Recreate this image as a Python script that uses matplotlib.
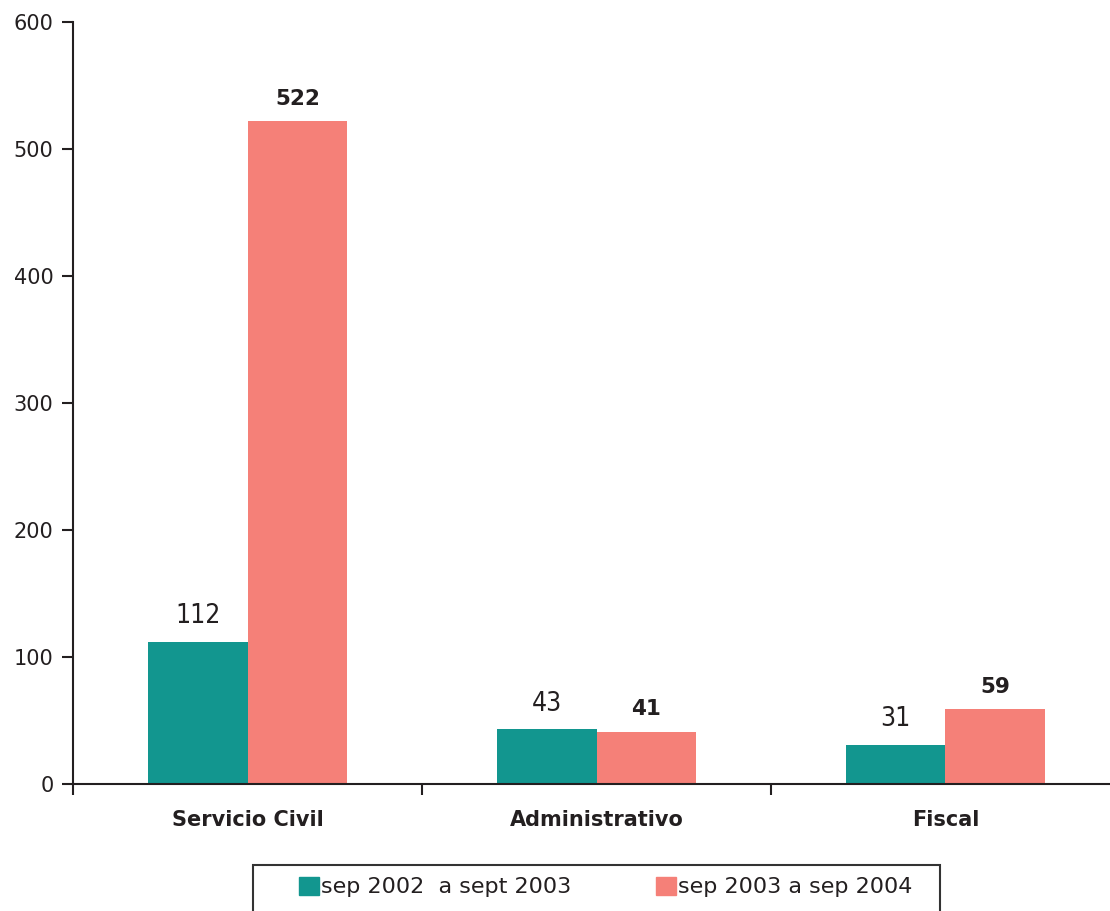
import numpy as np
import matplotlib.pyplot as plt
from matplotlib.patches import Patch, Rectangle

# Datos ########################################################################
categorias = ["Servicio Civil", "Administrativo", "Fiscal"]
serie_2003 = [112, 43, 31]
serie_2004 = [522, 41, 59]
nombres = ["sep 2002  a sept 2003", "sep 2003 a sep 2004"]

verde = "#12968F"
salmon = "#F58078"
texto = "#231F20"

plt.rcParams["font.family"] = ["DejaVu Sans"]

fig = plt.figure(figsize=(11.1, 9.11), dpi=100)
ax = fig.add_axes([73 / 1110, 1 - 784 / 911, 1047 / 1110, 762 / 911])

x = np.arange(len(categorias))
ancho = 0.286
b1 = ax.bar(x - ancho / 2, serie_2003, ancho, color=verde)
b2 = ax.bar(x + ancho / 2, serie_2004, ancho, color=salmon)

# etiquetas de valores
for r, v in zip(b1, serie_2003):
    ax.annotate(str(v), (r.get_x() + r.get_width() / 2, v), xytext=(0, 9),
                textcoords="offset points", ha="center", va="bottom",
                fontsize=19, fontstretch="condensed", color=texto)
for r, v in zip(b2, serie_2004):
    ax.annotate(str(v), (r.get_x() + r.get_width() / 2, v), xytext=(0, 9),
                textcoords="offset points", ha="center", va="bottom",
                fontsize=15.5, fontweight="bold", color=texto)

ax.set_xlim(-0.5, 2.5)
ax.set_ylim(0, 600)
ax.set_yticks(range(0, 601, 100))

ax.set_xticks(x)
ax.set_xticklabels(categorias, fontsize=15, fontweight="bold", color=texto)
ax.set_xticks([-0.5, 0.5, 1.5, 2.5], minor=True)
ax.tick_params(axis="x", which="major", length=0, pad=19)
ax.tick_params(axis="x", which="minor", length=8, width=1.5, direction="out", color=texto)
ax.tick_params(axis="y", length=8, width=1.5, direction="out", color=texto,
               labelsize=15, labelcolor=texto, pad=6)

for s in ["top", "right"]:
    ax.spines[s].set_visible(False)
for s in ["left", "bottom"]:
    ax.spines[s].set_linewidth(1.5)
    ax.spines[s].set_color(texto)

# Leyenda (marco dibujado aparte)
marco = Rectangle((253 / 1110, 1 - 925 / 911), 687 / 1110, 60 / 911,
                  transform=fig.transFigure, fill=False,
                  edgecolor="#333333", linewidth=1.5)
fig.add_artist(marco)
manijas = [Patch(color=verde), Patch(color=salmon)]
leg = fig.legend(manijas, nombres, loc="center", ncol=2,
                 bbox_to_anchor=(606 / 1110, 1 - 887 / 911), frameon=False,
                 fontsize=16, handlelength=0.9, handleheight=0.9,
                 handletextpad=0.1, columnspacing=3.8, borderpad=0,
                 borderaxespad=0)
for t in leg.get_texts():
    t.set_color(texto)

fig.savefig("out.png", dpi=100)
